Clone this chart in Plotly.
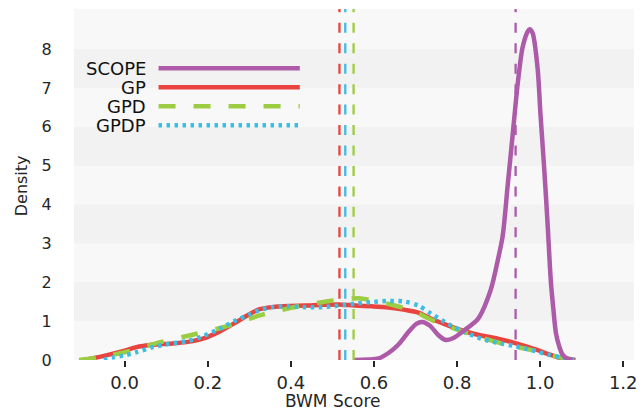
import plotly.graph_objects as go

# ---------------- data ----------------
series_names = ["SCOPE", "GP", "GPD", "GPDP"]
series_colors = {"SCOPE": "#ad5ba8", "GP": "#e8433e", "GPD": "#9bcc41", "GPDP": "#3cbde5"}

gp_x = [-0.100, -0.052, 0.0, 0.028, 0.068, 0.108, 0.148, 0.188, 0.228, 0.268, 0.299, 0.323,
        0.355, 0.395, 0.435, 0.475, 0.515, 0.555, 0.595, 0.635, 0.675, 0.707, 0.738, 0.778,
        0.818, 0.858, 0.898, 0.938, 0.978, 1.018, 1.042, 1.066, 1.085]
gp_y = [0.0, 0.10, 0.24, 0.33, 0.39, 0.42, 0.46, 0.55, 0.73, 0.97, 1.17, 1.30,
        1.36, 1.39, 1.40, 1.42, 1.43, 1.40, 1.38, 1.35, 1.29, 1.22, 1.06, 0.89,
        0.74, 0.63, 0.55, 0.44, 0.31, 0.16, 0.07, 0.03, 0.0]

gpd_x = [-0.110, -0.069, -0.036, 0.0, 0.079, 0.163, 0.247, 0.323, 0.371, 0.414, 0.501, 0.563,
         0.606, 0.654, 0.690, 0.754, 0.834, 0.917, 0.999, 1.042, 1.085]
gpd_y = [0.0, 0.05, 0.12, 0.20, 0.44, 0.65, 0.87, 1.14, 1.27, 1.37, 1.53, 1.59,
         1.51, 1.39, 1.28, 0.96, 0.66, 0.40, 0.21, 0.08, 0.0]

gpdp_x = [-0.050, -0.028, 0.0, 0.028, 0.068, 0.108, 0.148, 0.188, 0.228, 0.268, 0.299, 0.323,
          0.355, 0.395, 0.435, 0.475, 0.515, 0.555, 0.595, 0.635, 0.675, 0.707, 0.738, 0.778,
          0.818, 0.858, 0.898, 0.938, 0.978, 1.018, 1.049, 1.073, 1.090]
gpdp_y = [0.0, 0.07, 0.12, 0.20, 0.33, 0.42, 0.48, 0.61, 0.80, 1.02, 1.16, 1.28,
          1.36, 1.38, 1.36, 1.36, 1.40, 1.45, 1.49, 1.52, 1.50, 1.40, 1.19, 0.93,
          0.72, 0.55, 0.44, 0.36, 0.26, 0.14, 0.07, 0.02, 0.0]

scope_x = [0.551, 0.587, 0.611, 0.635, 0.659, 0.683, 0.702, 0.716, 0.735, 0.754, 0.771, 0.790,
           0.819, 0.850, 0.881, 0.898, 0.910, 0.922, 0.934, 0.946, 0.958, 0.970, 0.975, 0.982,
           0.994, 1.001, 1.010, 1.018, 1.026, 1.032, 1.038, 1.046, 1.054, 1.066, 1.078]
scope_y = [0.0, 0.01, 0.04, 0.18, 0.40, 0.72, 0.93, 0.98, 0.88, 0.65, 0.52, 0.56,
           0.78, 1.05, 1.80, 2.56, 3.20, 4.50, 5.80, 7.10, 8.05, 8.45, 8.51, 8.41,
           7.50, 6.30, 4.90, 3.50, 2.00, 1.30, 0.70, 0.35, 0.14, 0.03, 0.0]

means = {"GP": 0.517, "GPDP": 0.531, "GPD": 0.551, "SCOPE": 0.941}

x_ticks = [0.0, 0.2, 0.4, 0.6, 0.8, 1.0, 1.2]
y_ticks = [0, 1, 2, 3, 4, 5, 6, 7, 8]

# ---------------- styles ----------------
dash_styles = {"SCOPE": "solid", "GP": "solid", "GPD": "17px,18px", "GPDP": "3.5px,4.5px"}
LW = 4.5
X_RANGE = [-0.122, 1.226]
Y_RANGE = [0, 9.03]

data = {
    "GP": (gp_x, gp_y),
    "GPD": (gpd_x, gpd_y),
    "GPDP": (gpdp_x, gpdp_y),
    "SCOPE": (scope_x, scope_y),
}

fig = go.Figure()
for name in ["GP", "GPD", "GPDP", "SCOPE"]:
    xs, ys = data[name]
    fig.add_trace(go.Scatter(
        x=xs, y=ys, mode="lines", name=name, showlegend=False,
        line=dict(color=series_colors[name], width=LW, dash=dash_styles[name],
                  shape="spline", smoothing=0.8),
    ))

shapes = []
# alternating horizontal bands
for k in range(1, 9, 2):
    shapes.append(dict(type="rect", xref="paper", yref="y", x0=0, x1=1, y0=k, y1=k + 1,
                       fillcolor="#f2f2f2", line=dict(width=0), layer="below"))
# mean lines
for name in ["GP", "GPDP", "GPD", "SCOPE"]:
    shapes.append(dict(type="line", xref="x", yref="paper", x0=means[name], x1=means[name],
                       y0=0, y1=1, line=dict(color=series_colors[name], width=2.3,
                                             dash="10px,10.45px"), layer="above"))

# custom legend (text on the left, long line sample on the right)
PL, PR, PT, PB = 74, 637, 9, 360
def px_x(p):
    return (p - PL) / (PR - PL)
def px_y(p):
    return (PB - p) / (PB - PT)

legend_rows = [68.3, 87.3, 106.3, 125.3]
annotations = []
for name, row in zip(series_names, legend_rows):
    shapes.append(dict(type="line", xref="paper", yref="paper", x0=px_x(159), x1=px_x(301),
                       y0=px_y(row), y1=px_y(row),
                       line=dict(color=series_colors[name], width=LW, dash=dash_styles[name])))
    annotations.append(dict(text=name, xref="paper", yref="paper", x=px_x(148), y=px_y(row),
                            xanchor="right", yanchor="middle", showarrow=False,
                            font=dict(family="DejaVu Sans", size=18, color="#111111")))

annotations.append(dict(text="BWM Score", xref="paper", yref="paper", x=px_x(334.5),
                        y=px_y(400.5), xanchor="center", yanchor="middle", showarrow=False,
                        font=dict(family="DejaVu Sans", size=17, color="#262626")))
annotations.append(dict(text="Density", xref="paper", yref="paper", x=px_x(21),
                        y=px_y(186), xanchor="center", yanchor="middle", showarrow=False,
                        textangle=-90,
                        font=dict(family="DejaVu Sans", size=16, color="#262626")))

fig.update_layout(
    width=644, height=412,
    margin=dict(l=PL, r=644 - PR, t=PT, b=412 - PB, pad=0),
    paper_bgcolor="white", plot_bgcolor="#f8f8f8",
    shapes=shapes, annotations=annotations, showlegend=False,
    font=dict(family="DejaVu Sans", color="#262626"),
)
fig.update_xaxes(range=X_RANGE, tickvals=x_ticks, ticktext=[f"{v:.1f}" for v in x_ticks],
                 showgrid=False, zeroline=False, showline=False,
                 ticks="outside", ticklen=6, tickwidth=2, tickcolor="#262626",
                 tickfont=dict(family="DejaVu Sans", size=18, color="#262626"))
fig.update_yaxes(range=Y_RANGE, tickvals=y_ticks, ticktext=[str(v) for v in y_ticks],
                 showgrid=False, zeroline=False, showline=False,
                 ticks="outside", ticklen=18, tickcolor="rgba(0,0,0,0)",
                 tickfont=dict(family="DejaVu Sans", size=16, color="#262626"))

fig.write_html("out.html", config={"displayModeBar": False},
               post_script="document.body.style.margin='0';document.body.style.overflow='hidden';")
